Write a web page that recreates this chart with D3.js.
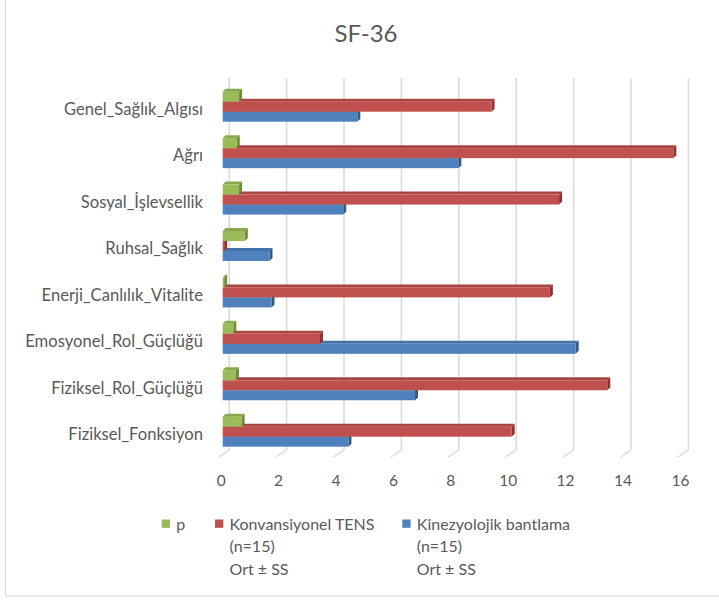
<!DOCTYPE html>
<html><head><meta charset="utf-8">
<script src="https://cdn.jsdelivr.net/npm/d3@7"></script>
<style>body{margin:0;background:#fff}svg{display:block}</style>
</head><body>
<svg id="c" width="719" height="600"></svg>
<script>
// Categories listed bottom-to-top (Excel order)
const categories = ["Fiziksel_Fonksiyon","Fiziksel_Rol_Güçlüğü","Emosyonel_Rol_Güçlüğü","Enerji_Canlılık_Vitalite","Ruhsal_Sağlık","Sosyal_İşlevsellik","Ağrı","Genel_Sağlık_Algısı"];
const kinezyolojik = [4.38, 6.70, 12.30, 1.70, 1.63, 4.20, 8.21, 4.69];
const konvansiyonel = [10.07, 13.40, 3.39, 11.40, 0.05, 11.72, 15.70, 9.37];
const pValues = [0.66, 0.46, 0.37, 0.05, 0.77, 0.57, 0.49, 0.57];
const xTicks = [0,2,4,6,8,10,12,14,16];
const seriesNames = ["Kinezyolojik bantlama", "Konvansiyonel TENS", "p"];
const legendItems = [
  {name:"p", lines:["p"]},
  {name:"Konvansiyonel TENS", lines:["Konvansiyonel TENS","(n=15)","Ort ± SS"]},
  {name:"Kinezyolojik bantlama", lines:["Kinezyolojik bantlama","(n=15)","Ort ± SS"]}
];
const colors = {"Kinezyolojik bantlama":"#4F81BD","Konvansiyonel TENS":"#C0504D","p":"#9BBB59"};
const darkColors = {"Kinezyolojik bantlama":"#36587f","Konvansiyonel TENS":"#8a3432","p":"#6f8a3b"};
const topColors = {"Kinezyolojik bantlama":"#4471a8","Konvansiyonel TENS":"#a84542","p":"#88a84d"};

const series = [
  {name:seriesNames[0], values:kinezyolojik},
  {name:seriesNames[1], values:konvansiyonel},
  {name:seriesNames[2], values:pValues}
];

const svg = d3.select("#c");
const FONT = "Lato, 'Open Sans', sans-serif";
const textColor = "#595959";

// outer border (top/right cropped)
svg.append("rect").attr("x",5.5).attr("y",-5).attr("width",730).attr("height",601)
  .attr("fill","#fff").attr("stroke","#d9d9d9").attr("stroke-width",1);

// title
svg.append("text").attr("x",366).attr("y",42).attr("text-anchor","middle")
  .attr("font-family",FONT).attr("font-size",24).attr("fill",textColor).text("SF-36");

const x = d3.scaleLinear().domain([0,16]).range([222.7, 681.9]);
const y = d3.scaleBand().domain(categories.slice().reverse()).range([83.5, 454.9])
  .paddingInner(0.354).paddingOuter(0.177);
// within group: p on top, TENS middle, Kinezyolojik bottom
const yInner = d3.scaleBand().domain(["p","Konvansiyonel TENS","Kinezyolojik bantlama"]).range([0, y.bandwidth()]);

const wallDX = 6.5, wallDY = -7;
const backTop = 78, backBottom = 450, frontFloor = 457;

// gridlines on back wall + floor slants
const grid = svg.append("g");
xTicks.forEach(t => {
  const xf = x(t), xb = xf + wallDX;
  grid.append("line").attr("x1",xb).attr("x2",xb).attr("y1",backTop).attr("y2",backBottom)
    .attr("stroke","#d9d9d9").attr("stroke-width",1.5);
  grid.append("line").attr("x1",xb).attr("y1",backBottom).attr("x2",xf-4).attr("y2",frontFloor)
    .attr("stroke","#d9d9d9").attr("stroke-width",1.5);
});

// x tick labels
const xAxis = d3.axisBottom(x).tickValues(xTicks).tickSize(0).tickPadding(0);
const gx = svg.append("g").attr("transform","translate(-2,486)").call(xAxis);
gx.select(".domain").remove();
gx.selectAll("text").attr("font-family",FONT).attr("font-size",15.5).attr("fill",textColor).attr("dy",0);

// category labels
const yAxis = d3.axisLeft(y).tickSize(0).tickPadding(0);
const gy = svg.append("g").attr("transform","translate(203,3)").call(yAxis);
gy.select(".domain").remove();
gy.selectAll("text").attr("font-family",FONT).attr("font-size",16.6).attr("fill",textColor);

// bars (3D-like), draw lower series first so upper bars overlap their top faces
const d = 3;
const barH = yInner.bandwidth();
const bars = svg.append("g");
categories.forEach((cat, ci) => {
  series.forEach(s => {
    const v = s.values[ci];
    const x0 = x(0), x1 = x(v);
    const yy = y(cat) + yInner(s.name);
    const g = bars.append("g");
    g.append("polygon").attr("points",[[x0,yy],[x0+d,yy-d],[x1+d,yy-d],[x1,yy]].map(p=>p.join(",")).join(" "))
      .attr("fill",topColors[s.name]);
    g.append("polygon").attr("points",[[x1,yy],[x1+d,yy-d],[x1+d,yy+barH-d],[x1,yy+barH]].map(p=>p.join(",")).join(" "))
      .attr("fill",darkColors[s.name]);
    g.append("rect").attr("x",x0).attr("y",yy).attr("width",Math.max(0,x1-x0)).attr("height",barH)
      .attr("fill",colors[s.name]);
  });
});

// legend
const lg = svg.append("g");
const legendX = [161.7, 215, 402.3];
legendItems.forEach((it, i) => {
  lg.append("rect").attr("x",legendX[i]).attr("y",519.5).attr("width",8.3).attr("height",8.3)
    .attr("fill",colors[it.name]);
  it.lines.forEach((ln, li) => {
    lg.append("text").attr("x",legendX[i]+14.5).attr("y",529.5 + li*22.5)
      .attr("font-family",FONT).attr("font-size",16).attr("fill",textColor).text(ln);
  });
});
</script>
</body></html>
